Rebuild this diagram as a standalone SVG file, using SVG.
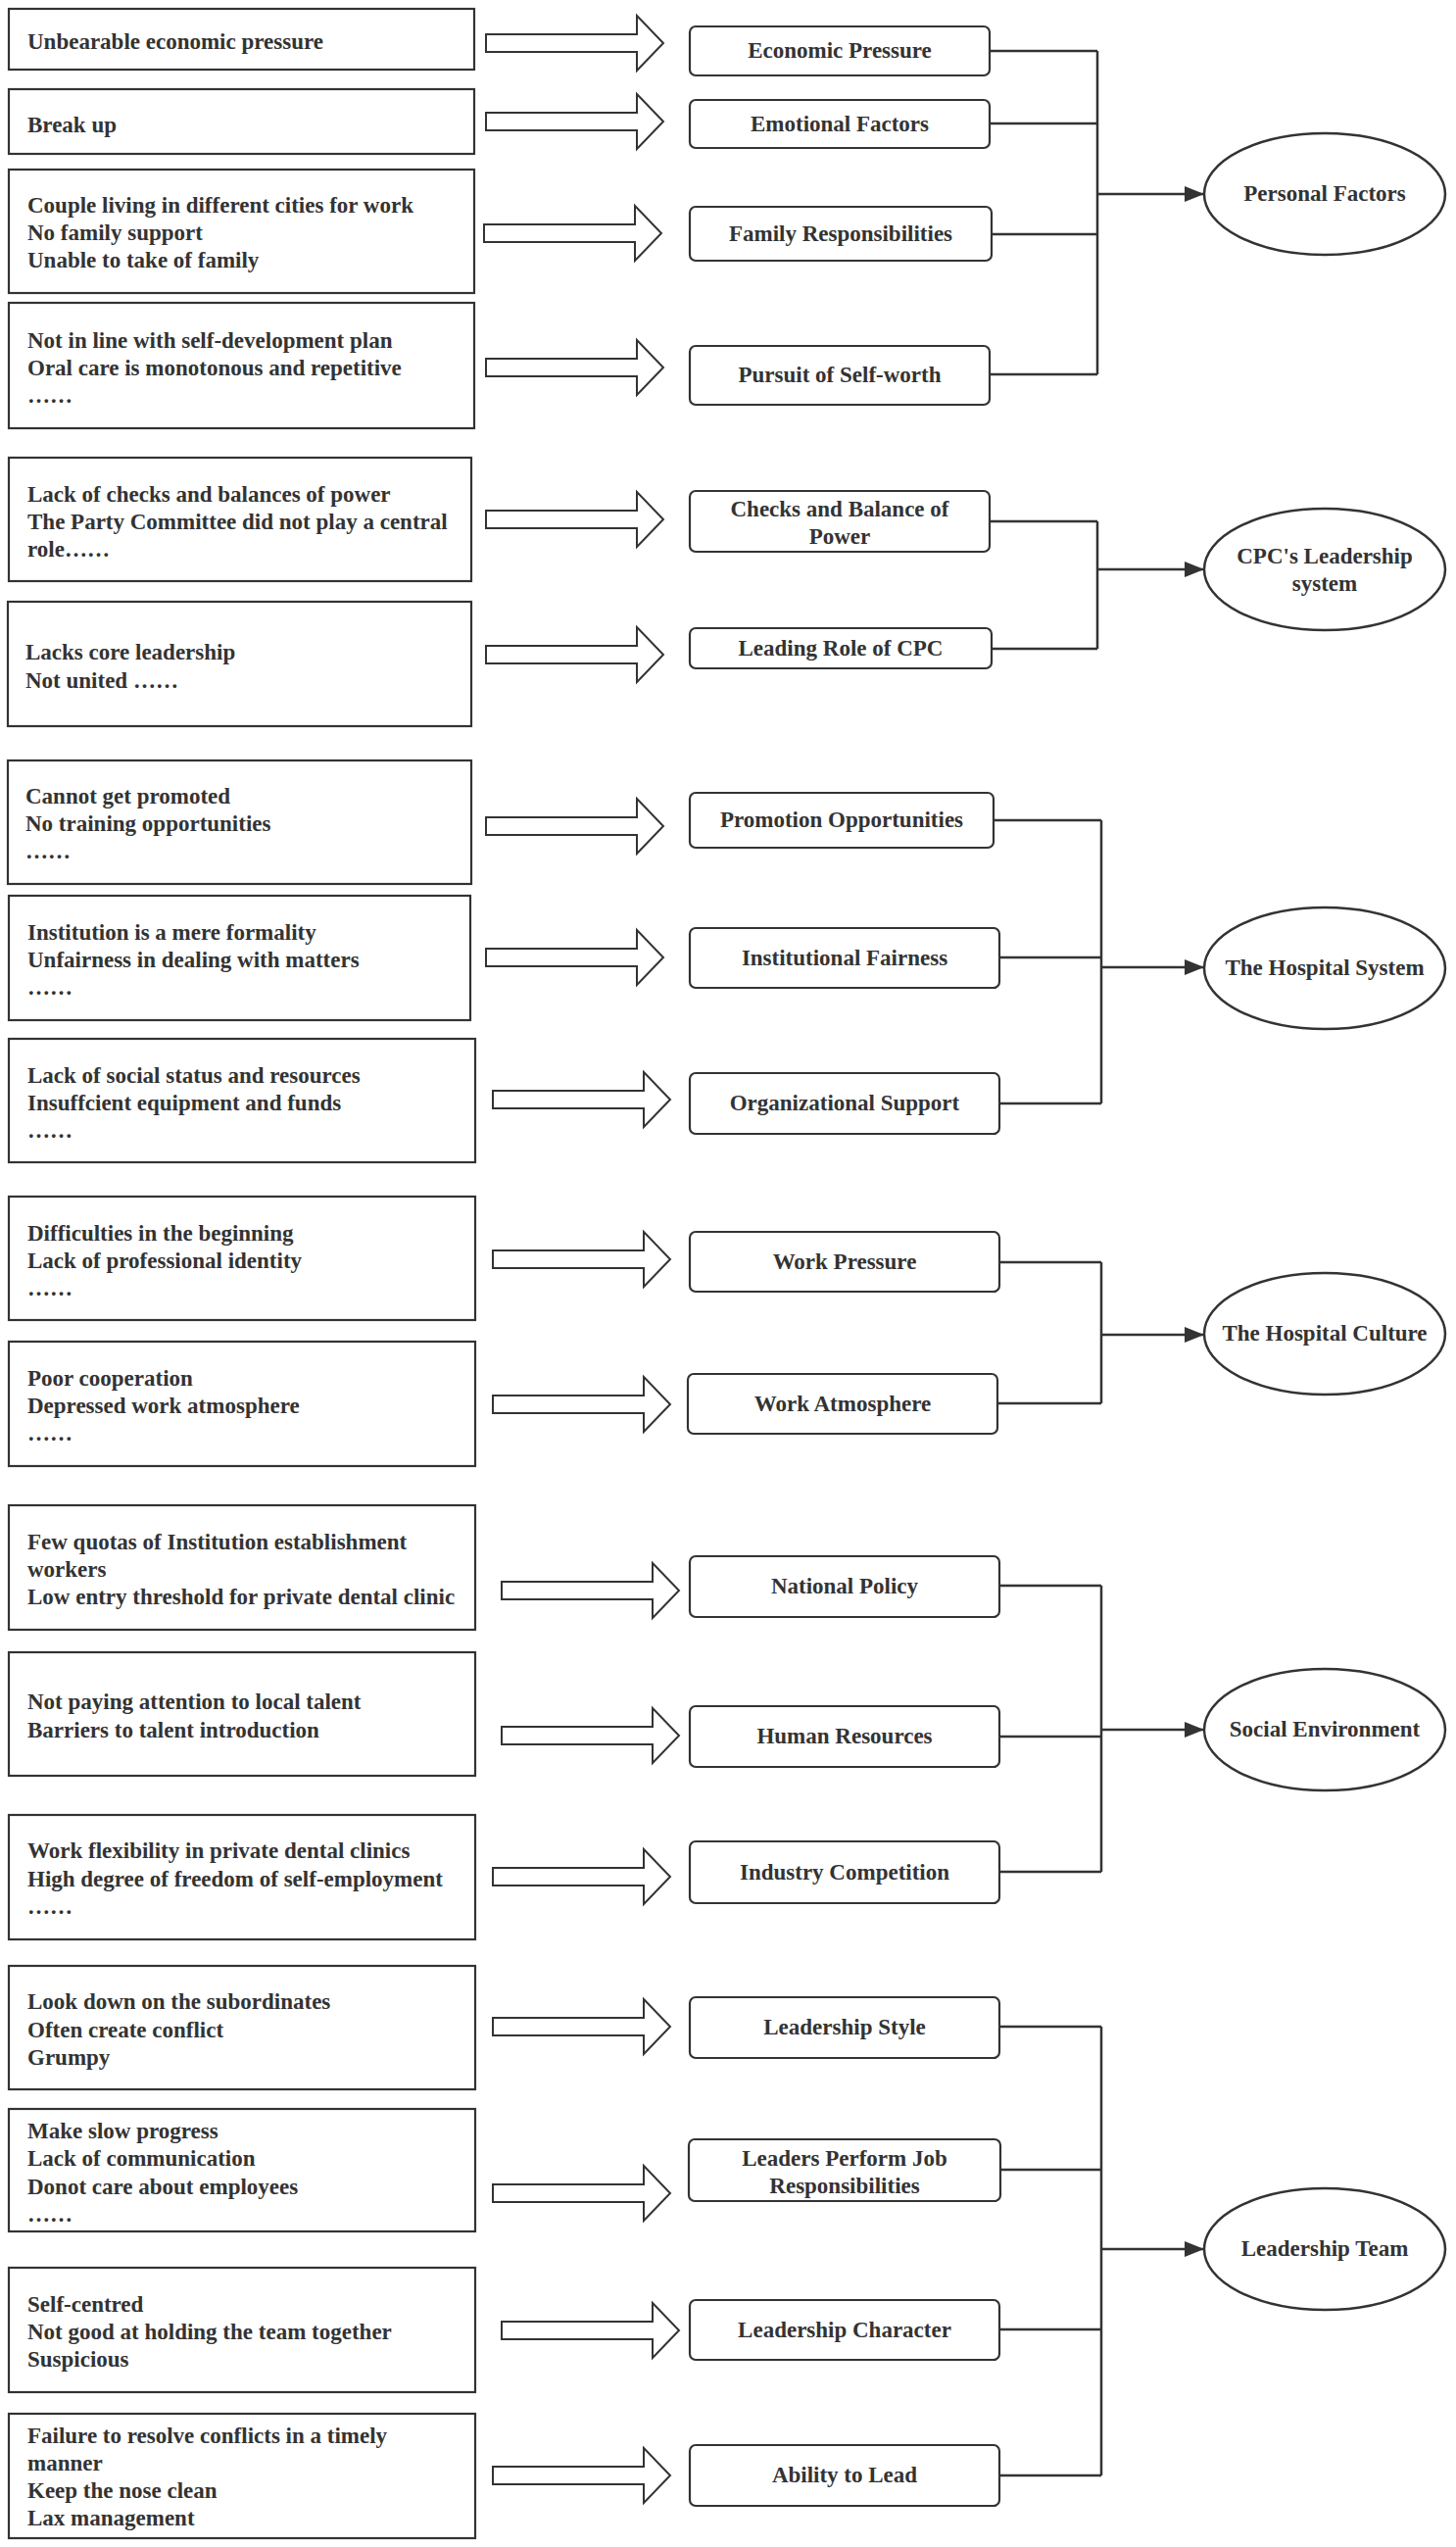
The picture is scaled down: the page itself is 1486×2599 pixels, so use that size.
<svg xmlns="http://www.w3.org/2000/svg" xmlns:xlink="http://www.w3.org/1999/xlink" width="1486" height="2599" viewBox="0 0 1486 2599">
<style>
.bx{fill:#fff;stroke:#333;stroke-width:2.2}
.mb{fill:#fff;stroke:#333;stroke-width:2.2}
.el{fill:#fff;stroke:#333;stroke-width:2.5}
.ha{fill:#fff;stroke:#333;stroke-width:2}
.cn{fill:none;stroke:#333;stroke-width:2.5}
text{font-family:"Liberation Serif","Times New Roman",serif;font-weight:bold;font-size:23px;fill:#333}
.lt{text-anchor:start}
.ct{text-anchor:middle}
</style>
<defs>
<path id="ha" d="M0,-9 H154 V-28 L181,0 L154,28 V9 H0 Z"/>
<marker id="ah" viewBox="0 0 20 16" refX="20" refY="8" markerWidth="20" markerHeight="16" markerUnits="userSpaceOnUse" orient="auto">
<path d="M0,0 L20,8 L0,16 Z" fill="#333"/>
</marker>
</defs>
<rect width="1486" height="2599" fill="#fff"/>

<g id="connectors">
<path class="cn" d="M1010,52 H1120 M1010,126 H1120 M1012,239 H1120 M1010,382 H1120 M1120,52 V382"/>
<path class="cn" d="M1120,198 H1229" marker-end="url(#ah)"/>
<path class="cn" d="M1010,532 H1120 M1012,662 H1120 M1120,532 V662"/>
<path class="cn" d="M1120,581 H1229" marker-end="url(#ah)"/>
<path class="cn" d="M1014,837 H1124 M1020,977 H1124 M1020,1126 H1124 M1124,837 V1126"/>
<path class="cn" d="M1124,987 H1229" marker-end="url(#ah)"/>
<path class="cn" d="M1020,1288 H1124 M1018,1432 H1124 M1124,1288 V1432"/>
<path class="cn" d="M1124,1362 H1229" marker-end="url(#ah)"/>
<path class="cn" d="M1020,1618 H1124 M1020,1772 H1124 M1020,1910 H1124 M1124,1618 V1910"/>
<path class="cn" d="M1124,1765 H1229" marker-end="url(#ah)"/>
<path class="cn" d="M1020,2068 H1124 M1021,2214 H1124 M1020,2377 H1124 M1020,2526 H1124 M1124,2068 V2526"/>
<path class="cn" d="M1124,2295 H1229" marker-end="url(#ah)"/>
</g>

<g id="hollow-arrows">
<use href="#ha" class="ha" x="496" y="44"/>
<use href="#ha" class="ha" x="496" y="124"/>
<use href="#ha" class="ha" x="494" y="238"/>
<use href="#ha" class="ha" x="496" y="375"/>
<use href="#ha" class="ha" x="496" y="530"/>
<use href="#ha" class="ha" x="496" y="668"/>
<use href="#ha" class="ha" x="496" y="843"/>
<use href="#ha" class="ha" x="496" y="977"/>
<use href="#ha" class="ha" x="503" y="1122"/>
<use href="#ha" class="ha" x="503" y="1285"/>
<use href="#ha" class="ha" x="503" y="1433"/>
<use href="#ha" class="ha" x="512" y="1623"/>
<use href="#ha" class="ha" x="512" y="1771"/>
<use href="#ha" class="ha" x="503" y="1915"/>
<use href="#ha" class="ha" x="503" y="2068"/>
<use href="#ha" class="ha" x="503" y="2238"/>
<use href="#ha" class="ha" x="512" y="2378"/>
<use href="#ha" class="ha" x="503" y="2526"/>
</g>

<g id="cause1"><rect class="bx" x="9" y="9" width="475" height="62"/><text class="lt" x="28" y="50">Unbearable economic pressure</text></g>
<g id="cause2"><rect class="bx" x="9" y="91" width="475" height="66"/><text class="lt" x="28" y="135">Break up</text></g>
<g id="cause3"><rect class="bx" x="9" y="173" width="475" height="126"/><text class="lt" x="28" y="217">Couple living in different cities for work</text><text class="lt" x="28" y="245">No family support</text><text class="lt" x="28" y="273">Unable to take of family</text></g>
<g id="cause4"><rect class="bx" x="9" y="309" width="475" height="128"/><text class="lt" x="28" y="355">Not in line with self-development plan</text><text class="lt" x="28" y="383">Oral care is monotonous and repetitive</text><text class="lt" x="28" y="411">……</text></g>
<g id="cause5"><rect class="bx" x="9" y="467" width="472" height="126"/><text class="lt" x="28" y="512">Lack of checks and balances of power</text><text class="lt" x="28" y="540">The Party Committee did not play a central</text><text class="lt" x="28" y="568">role……</text></g>
<g id="cause6"><rect class="bx" x="8" y="614" width="473" height="127"/><text class="lt" x="26" y="673">Lacks core leadership</text><text class="lt" x="26" y="702">Not united ……</text></g>
<g id="cause7"><rect class="bx" x="8" y="776" width="473" height="126"/><text class="lt" x="26" y="820">Cannot get promoted</text><text class="lt" x="26" y="848">No training opportunities</text><text class="lt" x="26" y="876">……</text></g>
<g id="cause8"><rect class="bx" x="9" y="914" width="471" height="127"/><text class="lt" x="28" y="959">Institution is a mere formality</text><text class="lt" x="28" y="987">Unfairness in dealing with matters</text><text class="lt" x="28" y="1015">……</text></g>
<g id="cause9"><rect class="bx" x="9" y="1060" width="476" height="126"/><text class="lt" x="28" y="1105">Lack of social status and resources</text><text class="lt" x="28" y="1133">Insuffcient equipment and funds</text><text class="lt" x="28" y="1161">……</text></g>
<g id="cause10"><rect class="bx" x="9" y="1221" width="476" height="126"/><text class="lt" x="28" y="1266">Difficulties in the beginning</text><text class="lt" x="28" y="1294">Lack of professional identity</text><text class="lt" x="28" y="1322">……</text></g>
<g id="cause11"><rect class="bx" x="9" y="1369" width="476" height="127"/><text class="lt" x="28" y="1414">Poor cooperation</text><text class="lt" x="28" y="1442">Depressed work atmosphere</text><text class="lt" x="28" y="1470">……</text></g>
<g id="cause12"><rect class="bx" x="9" y="1536" width="476" height="127"/><text class="lt" x="28" y="1581">Few quotas of Institution establishment</text><text class="lt" x="28" y="1609">workers</text><text class="lt" x="28" y="1637">Low entry threshold for private dental clinic</text></g>
<g id="cause13"><rect class="bx" x="9" y="1686" width="476" height="126"/><text class="lt" x="28" y="1744">Not paying attention to local talent</text><text class="lt" x="28" y="1773">Barriers to talent introduction</text></g>
<g id="cause14"><rect class="bx" x="9" y="1852" width="476" height="127"/><text class="lt" x="28" y="1896">Work flexibility in private dental clinics</text><text class="lt" x="28" y="1925">High degree of freedom of self-employment</text><text class="lt" x="28" y="1953">……</text></g>
<g id="cause15"><rect class="bx" x="9" y="2006" width="476" height="126"/><text class="lt" x="28" y="2050">Look down on the subordinates</text><text class="lt" x="28" y="2079">Often create conflict</text><text class="lt" x="28" y="2107">Grumpy</text></g>
<g id="cause16"><rect class="bx" x="9" y="2152" width="476" height="125"/><text class="lt" x="28" y="2182">Make slow progress</text><text class="lt" x="28" y="2210">Lack of communication</text><text class="lt" x="28" y="2239">Donot care about employees</text><text class="lt" x="28" y="2267">……</text></g>
<g id="cause17"><rect class="bx" x="9" y="2314" width="476" height="127"/><text class="lt" x="28" y="2359">Self-centred</text><text class="lt" x="28" y="2387">Not good at holding the team together</text><text class="lt" x="28" y="2415">Suspicious</text></g>
<g id="cause18"><rect class="bx" x="9" y="2463" width="476" height="127"/><text class="lt" x="28" y="2493">Failure to resolve conflicts in a timely</text><text class="lt" x="28" y="2521">manner</text><text class="lt" x="28" y="2549">Keep the nose clean</text><text class="lt" x="28" y="2577">Lax management</text></g>

<g id="factor1"><rect class="mb" x="704" y="27" width="306" height="50" rx="6"/><text class="ct" x="857" y="59">Economic Pressure</text></g>
<g id="factor2"><rect class="mb" x="704" y="102" width="306" height="49" rx="6"/><text class="ct" x="857" y="134">Emotional Factors</text></g>
<g id="factor3"><rect class="mb" x="704" y="211" width="308" height="55" rx="6"/><text class="ct" x="858" y="246">Family Responsibilities</text></g>
<g id="factor4"><rect class="mb" x="704" y="353" width="306" height="60" rx="6"/><text class="ct" x="857" y="390">Pursuit of Self-worth</text></g>
<g id="factor5"><rect class="mb" x="704" y="501" width="306" height="62" rx="6"/><text class="ct" x="857" y="527">Checks and Balance of</text><text class="ct" x="857" y="555">Power</text></g>
<g id="factor6"><rect class="mb" x="704" y="641" width="308" height="41" rx="6"/><text class="ct" x="858" y="669">Leading Role of CPC</text></g>
<g id="factor7"><rect class="mb" x="704" y="809" width="310" height="56" rx="6"/><text class="ct" x="859" y="844">Promotion Opportunities</text></g>
<g id="factor8"><rect class="mb" x="704" y="947" width="316" height="61" rx="6"/><text class="ct" x="862" y="985">Institutional Fairness</text></g>
<g id="factor9"><rect class="mb" x="704" y="1095" width="316" height="62" rx="6"/><text class="ct" x="862" y="1133">Organizational Support</text></g>
<g id="factor10"><rect class="mb" x="704" y="1257" width="316" height="61" rx="6"/><text class="ct" x="862" y="1295">Work Pressure</text></g>
<g id="factor11"><rect class="mb" x="702" y="1402" width="316" height="61" rx="6"/><text class="ct" x="860" y="1440">Work Atmosphere</text></g>
<g id="factor12"><rect class="mb" x="704" y="1588" width="316" height="62" rx="6"/><text class="ct" x="862" y="1626">National Policy</text></g>
<g id="factor13"><rect class="mb" x="704" y="1741" width="316" height="62" rx="6"/><text class="ct" x="862" y="1779">Human Resources</text></g>
<g id="factor14"><rect class="mb" x="704" y="1879" width="316" height="63" rx="6"/><text class="ct" x="862" y="1918">Industry Competition</text></g>
<g id="factor15"><rect class="mb" x="704" y="2038" width="316" height="62" rx="6"/><text class="ct" x="862" y="2076">Leadership Style</text></g>
<g id="factor16"><rect class="mb" x="703" y="2183" width="318" height="63" rx="6"/><text class="ct" x="862" y="2210">Leaders Perform Job</text><text class="ct" x="862" y="2238">Responsibilities</text></g>
<g id="factor17"><rect class="mb" x="704" y="2347" width="316" height="61" rx="6"/><text class="ct" x="862" y="2385">Leadership Character</text></g>
<g id="factor18"><rect class="mb" x="704" y="2495" width="316" height="62" rx="6"/><text class="ct" x="862" y="2533">Ability to Lead</text></g>

<g id="cat-personal"><ellipse class="el" cx="1352" cy="198" rx="123" ry="62"/><text class="ct" x="1352" y="205">Personal Factors</text></g>
<g id="cat-cpc"><ellipse class="el" cx="1352" cy="581" rx="123" ry="62"/><text class="ct" x="1352" y="575">CPC's Leadership</text><text class="ct" x="1352" y="603">system</text></g>
<g id="cat-system"><ellipse class="el" cx="1352" cy="988" rx="123" ry="62"/><text class="ct" x="1352" y="995">The Hospital System</text></g>
<g id="cat-culture"><ellipse class="el" cx="1352" cy="1361" rx="123" ry="62"/><text class="ct" x="1352" y="1368">The Hospital Culture</text></g>
<g id="cat-social"><ellipse class="el" cx="1352" cy="1765" rx="123" ry="62"/><text class="ct" x="1352" y="1772">Social Environment</text></g>
<g id="cat-leadership"><ellipse class="el" cx="1352" cy="2295" rx="123" ry="62"/><text class="ct" x="1352" y="2302">Leadership Team</text></g>
</svg>
